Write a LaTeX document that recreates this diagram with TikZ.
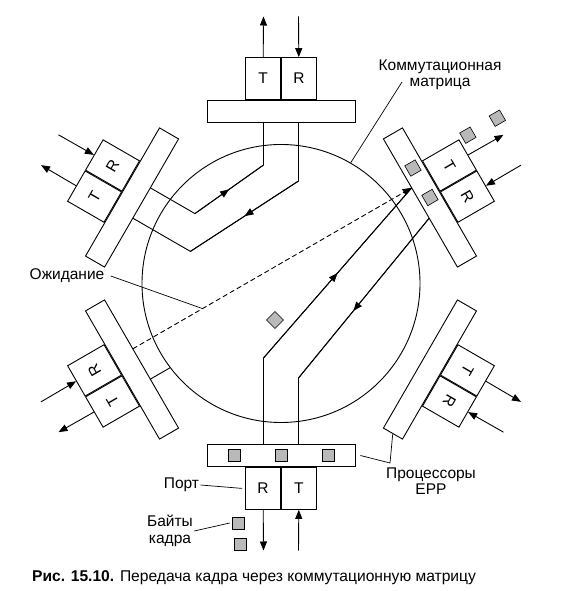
\documentclass[tikz,border=0pt]{standalone}
\usepackage{fontspec}
\setmainfont{Liberation Sans}
\usepackage{graphicx}
\usepackage{tikz}
\usetikzlibrary{arrows.meta,positioning,decorations.markings}

% one EPP port: bar, two boxes (out box left, in box right), outer arrows and inner line ends
\newcommand{\drawport}[6]{%
  \begin{scope}[#2, transform shape]
    \node[portbar] (#1bar) at (0,172) {};
    \node[trbox, anchor=south east] (#1boxo) at (#1bar.north) {#3};
    \node[trbox, anchor=south west] (#1boxi) at (#1bar.north) {#4};
    \coordinate (#1tipo) at (-17.5,267);
    \coordinate (#1tipi) at (17.5,267);
    \coordinate (#1a) at (-17.5,161);
    \coordinate (#1ai) at (-17.5,#5);
    \coordinate (#1b) at (17.5,161);
    \coordinate (#1bi) at (17.5,#6);
    \draw[arrow] (#1boxo) -- (#1tipo);
    \draw[arrow] (#1tipi) -- (#1boxi);
  \end{scope}}

\begin{document}
\begin{tikzpicture}[
  x=1pt, y=1pt, line width=0.9pt,
  portbar/.style={draw, fill=white, minimum width=148pt, minimum height=22pt, inner sep=0pt},
  trbox/.style={draw, fill=white, minimum width=35pt, minimum height=42pt, inner sep=0pt, font=\fontsize{15.5}{16}\selectfont},
  byte/.style={draw, fill=gray!55, minimum size=12pt, inner sep=0pt, line width=0.6pt},
  lbl/.style={font=\fontsize{15.5}{16.5}\selectfont, align=center, inner sep=0pt},
  leader/.style={line width=0.7pt},
  arrow/.style={-{Triangle[length=9pt, width=7pt]}, line width=0.9pt},
  midarrow/.style={decoration={markings, mark=at position #1 with {\arrow{Triangle[length=9pt, width=7pt]}}}, postaction={decorate}},
  midarrow/.default=0.5
]
\useasboundingbox (-281,-307.5) rectangle (287,283.5);

% Switching matrix
\node[draw, circle, minimum size=278pt, inner sep=0pt] (matrix) at (0,0) {};

% Six ports round the matrix
\drawport{top}{rotate=0}{T}{R}{118.5}{102.5}
\drawport{ul}{rotate=60}{T}{R}{94.5}{109.5}
\drawport{ll}{rotate=120}{T}{R}{138}{161}
\drawport{bot}{yscale=-1}{\scalebox{1}[-1]{R}}{\scalebox{1}[-1]{T}}{74.5}{94.5}
\drawport{lr}{rotate=240}{T}{R}{161}{161}
\drawport{ur}{rotate=-60}{T}{R}{161}{161}

% Connections through the matrix
\draw (ulb) -- (ulbi) -- (topai) -- (topa);
\draw[midarrow] (ulbi) -- (topai);
\draw (topb) -- (topbi) -- (ulai) -- (ula);
\draw[midarrow] (topbi) -- (ulai);
\draw (bota) -- (botai) -- (ura);
\draw[midarrow] (botai) -- (ura);
\draw (urb) -- (botbi) -- (botb);
\draw[midarrow=0.58] (urb) -- (botbi);
\draw (lla) -- (llai);
\draw[arrow, dash pattern=on 5pt off 3pt] (llb) -- coordinate[pos=0.25] (wait) (ura);

% Frame bytes
\node[byte] (bb1) at (-47,-172) {};
\node[byte] (bb2) at (0,-172) {};
\node[byte] (bb3) at (47,-172) {};
\begin{scope}[rotate=-60, transform shape]
  \node[byte] (ub1) at (-34,172) {};
  \node[byte] (ub2) at (0,172) {};
  \node[byte] (ub3) at (-35,236) {};
  \node[byte] (ub4) at (-35,270) {};
\end{scope}
\node[byte, rotate=45] (mb) at (-6,-36.5) {};
\node[byte] (kb1) at (-43,-239.5) {};
\node[byte] (kb2) at (-41,-260.5) {};

% Labels
\node[lbl] (lmat) at (159,208.5) {Коммутационная\\матрица};
\coordinate (lmatfoot) at (121,201.5);
\draw[leader] (lmatfoot) -- (matrix.60);

\node[lbl] (lwait) at (-214,7.5) {Ожидание};
\draw[leader] ([xshift=6pt]lwait.east) -- (wait);

\node[lbl] (lepp) at (150,-197.5) {Процессоры\\EPP};
\coordinate (eppjoin) at (109,-179.5);
\draw[leader] ([xshift=5pt]botbar.east) -- (eppjoin) -- (lrbar.east);

\node[lbl] (lport) at (-99.5,-201.5) {Порт};
\draw[leader] ([xshift=1pt]lport.east) -- ([xshift=-3pt]botboxo.west);

\node[lbl] (lbytes) at (-111,-247.5) {Байты\\кадра};
\draw[leader] ([xshift=1pt]lbytes.east) -- ([xshift=-2pt]kb1.west);

% Caption
\node[font=\fontsize{15.6}{16}\selectfont] (caption) at (-27,-294.5) {\textbf{Рис. 15.10.} Передача кадра через коммутационную матрицу};

\end{tikzpicture}
\end{document}
